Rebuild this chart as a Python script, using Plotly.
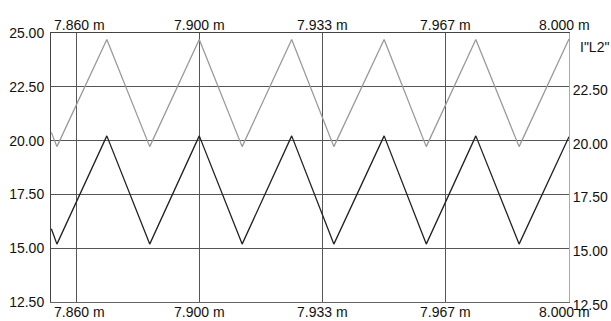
import plotly.graph_objects as go

# ---- data ----
x_vertices = [7.8600, 7.8615, 7.8750, 7.8866, 7.9000, 7.9116, 7.9250,
              7.9364, 7.9500, 7.9614, 7.9748, 7.9865, 8.0000]
black_values = [15.90, 15.19, 20.22, 15.19, 20.22, 15.19, 20.22,
                15.19, 20.22, 15.19, 20.22, 15.19, 20.18]
gray_values = [20.38, 19.72, 24.70, 19.72, 24.70, 19.72, 24.70,
               19.72, 24.70, 19.72, 24.70, 19.72, 24.72]

x_tick_vals = [7.8667, 7.9000, 7.9333, 7.9667, 8.0000]
x_tick_text = ["7.860 m", "7.900 m", "7.933 m", "7.967 m", "8.000 m"]
y_left_ticks = [25.0, 22.5, 20.0, 17.5, 15.0, 12.5]
y_right_ticks = [22.5, 20.0, 17.5, 15.0, 12.5]
right_label = 'I"L2"'

x_range = [7.8599, 8.0]
y_range = [12.5, 25.0]

FONT = dict(family="Liberation Sans, Arial, sans-serif", size=14, color="#111")
GRID = "#555555"

# small horizontal nudges of the first/last x labels (kept inside the frame)
label_nudge = [3, 0, 0, 0, -5]

fig = go.Figure()
fig.add_trace(go.Scatter(x=x_vertices, y=gray_values, mode="lines",
                         line=dict(color="#9a9a9a", width=1.3),
                         xaxis="x2", yaxis="y2", showlegend=False, hoverinfo="skip"))
fig.add_trace(go.Scatter(x=x_vertices, y=black_values, mode="lines",
                         line=dict(color="#222222", width=1.3),
                         showlegend=False, hoverinfo="skip"))

common_x = dict(range=x_range, tickvals=x_tick_vals, showticklabels=False,
                showgrid=True, gridcolor=GRID, gridwidth=1, zeroline=False,
                ticks="", fixedrange=True, automargin=False)

annotations = []
for v, t, dx in zip(x_tick_vals, x_tick_text, label_nudge):
    annotations.append(dict(text=t, x=v, xref="x", y=1, yref="paper",
                            xanchor="center", yanchor="middle", yshift=8, xshift=dx,
                            showarrow=False, font=FONT))
    annotations.append(dict(text=t, x=v, xref="x", y=0, yref="paper",
                            xanchor="center", yanchor="middle", yshift=-10, xshift=dx,
                            showarrow=False, font=FONT))
annotations.append(dict(text=right_label, xref="paper", yref="y", x=1.017, y=24.35,
                        xanchor="left", yanchor="middle", showarrow=False, font=FONT))

fig.update_layout(
    width=611, height=321,
    margin=dict(l=51, r=42, t=33, b=19, pad=0, autoexpand=False),
    paper_bgcolor="white", plot_bgcolor="white",
    font=FONT,
    xaxis=dict(**common_x, side="bottom", showline=True, linecolor="#666", linewidth=1),
    xaxis2=dict(**common_x, side="top", overlaying="x", anchor="y",
                showline=True, linecolor="#444", linewidth=1),
    yaxis=dict(range=y_range, tickvals=y_left_ticks, tickformat=".2f",
               showgrid=True, gridcolor=GRID, gridwidth=1, zeroline=False,
               ticks="", tickfont=FONT, showline=True, linecolor="#444", linewidth=1,
               fixedrange=True, automargin=False, ticklabelstandoff=3),
    yaxis2=dict(range=y_range, tickvals=y_right_ticks, tickformat=".2f",
                overlaying="y", side="right", anchor="x", showgrid=False,
                zeroline=False, ticks="", tickfont=FONT, ticklabelshift=3,
                showline=True, linecolor="#aaaaaa", linewidth=1, fixedrange=True,
                automargin=False, ticklabelstandoff=0),
    annotations=annotations,
)

fig.write_html("out.html",
               config={"displayModeBar": False},
               post_script="document.body.style.margin='0';"
                           "document.body.style.overflow='hidden';")
